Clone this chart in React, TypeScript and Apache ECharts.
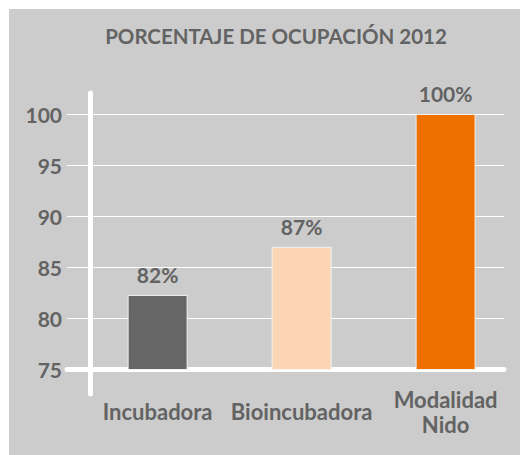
import React, { useEffect, useRef } from "react";
import * as echarts from "echarts";

const title = "PORCENTAJE DE OCUPACIÓN 2012";
const categories = ["Incubadora", "Bioincubadora", "Modalidad\nNido"];
const values = [82.3, 87, 100];
const barColors = ["#666666", "#fcd5b5", "#ee7100"];
const yMin = 75;
const yMax = 100;
const yInterval = 5;

const TEXT = "#636363";
const FONT = "Lato";

export default function App() {
  const ref = useRef<HTMLDivElement>(null);
  useEffect(() => {
    if (!ref.current) return;
    const chart = echarts.init(ref.current, undefined, { renderer: "svg" });
    chart.setOption({
      animation: false,
      backgroundColor: "#cccccc",
      title: {
        text: title,
        left: 262,
        top: 11,
        textAlign: "center",
        textStyle: { color: TEXT, fontFamily: FONT, fontWeight: "bold", fontSize: 20.5 },
      },
      grid: [
        { left: 58, right: 24, top: 105, bottom: 85.5 },
        { left: 76.6, right: 10.4, top: 105, bottom: 85.5 },
        { left: 81, right: 24, top: 84, bottom: 61 },
      ],
      xAxis: [
        {
          gridIndex: 0,
          type: "category",
          data: categories,
          axisLine: { show: true, lineStyle: { color: "#ffffff", width: 5 } },
          axisTick: { show: false },
          axisLabel: { show: false },
        },
        {
          gridIndex: 1,
          type: "category",
          data: categories,
          axisLine: { show: false },
          axisTick: { show: false },
          axisLabel: {
            color: TEXT,
            fontFamily: FONT,
            fontWeight: "bold",
            fontSize: 22,
            lineHeight: 25,
            verticalAlign: "middle",
            margin: 42,
            interval: 0,
          },
        },
        {
          gridIndex: 2,
          type: "value",
          show: false,
        },
      ],
      yAxis: [
        {
          gridIndex: 0,
          type: "value",
          min: yMin,
          max: yMax,
          interval: yInterval,
          axisLine: { show: false },
          axisTick: { show: false },
          splitLine: { show: true, lineStyle: { color: "#ffffff", width: 1 } },
          axisLabel: {
            color: TEXT,
            fontFamily: FONT,
            fontWeight: "bold",
            fontSize: 21,
            margin: 5,
          },
        },
        {
          gridIndex: 1,
          type: "value",
          min: yMin,
          max: yMax,
          show: false,
          splitLine: { show: false },
        },
        {
          gridIndex: 2,
          type: "value",
          min: 0,
          max: 1,
          axisLine: { show: true, lineStyle: { color: "#ffffff", width: 5 } },
          axisTick: { show: false },
          axisLabel: { show: false },
          splitLine: { show: false },
        },
      ],
      series: [
        {
          type: "bar",
          xAxisIndex: 1,
          yAxisIndex: 1,
          barWidth: 60,
          data: values.map((v, i) => ({
            value: v,
            itemStyle: { color: barColors[i], borderColor: "#f2f2f2", borderWidth: 1 },
          })),
          label: {
            show: true,
            position: "top",
            distance: 10,
            color: TEXT,
            fontFamily: FONT,
            fontWeight: "bold",
            fontSize: 21,
            formatter: (p: any) => Math.round(p.value) + "%",
          },
        },
      ],
    });
    return () => chart.dispose();
  }, []);
  return (
    <div
      ref={ref}
      style={{ width: 519, height: 446, marginLeft: 1, marginTop: 1 }}
    />
  );
}
